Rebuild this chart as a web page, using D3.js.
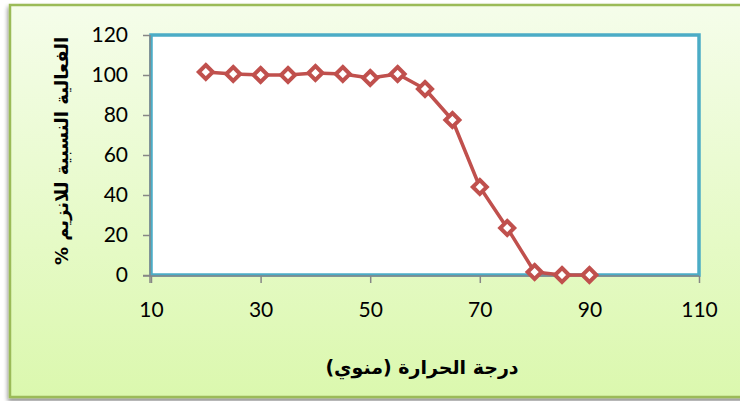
<!DOCTYPE html>
<html>
<head>
<meta charset="utf-8">
<script src="https://cdn.jsdelivr.net/npm/d3@7"></script>
<style>
  html, body { margin: 0; padding: 0; background: #ffffff; }
  svg { display: block; }
</style>
</head>
<body>
<svg id="chart" width="740" height="401"></svg>
<script>
// Relative enzyme activity (%) versus temperature (°C)
const temperatures = [20, 25, 30, 35, 40, 45, 50, 55, 60, 65, 70, 75, 80, 85, 90];
const activity = [101.5, 100.5, 100, 100, 101, 100.5, 98.5, 100.5, 93, 77.5, 44, 23.5, 1.5, 0, 0];
const xTicks = [10, 30, 50, 70, 90, 110];
const yTicks = [0, 20, 40, 60, 80, 100, 120];
const xTitle = "درجة الحرارة (منوي)";
const yTitle = "الفعالية النسبية للانزيم %";

const svg = d3.select("#chart");
const plot = { left: 151, right: 699, top: 35, bottom: 275 };

const defs = svg.append("defs");
const bg = defs.append("linearGradient").attr("id", "bgGrad")
  .attr("x1", 0).attr("y1", 0).attr("x2", 0).attr("y2", 1);
bg.append("stop").attr("offset", "0%").attr("stop-color", "#f5fdea");
bg.append("stop").attr("offset", "100%").attr("stop-color", "#dbf8ae");

const shadow = defs.append("filter").attr("id", "shadow")
  .attr("x", "-5%").attr("y", "-5%").attr("width", "110%").attr("height", "115%");
shadow.append("feGaussianBlur").attr("in", "SourceAlpha").attr("stdDeviation", 2);
shadow.append("feOffset").attr("dx", -1).attr("dy", 3).attr("result", "off");
shadow.append("feComponentTransfer").append("feFuncA").attr("type", "linear").attr("slope", 0.45);
const merge = shadow.append("feMerge");
merge.append("feMergeNode");
merge.append("feMergeNode").attr("in", "SourceGraphic");

// Chart area frame
svg.append("rect")
  .attr("x", 10).attr("y", 5).attr("width", 740).attr("height", 392)
  .attr("fill", "url(#bgGrad)")
  .attr("stroke", "#9bbb59").attr("stroke-width", 2.5)
  .attr("filter", "url(#shadow)");

const x = d3.scaleLinear().domain([10, 110]).range([plot.left, plot.right]);
const y = d3.scaleLinear().domain([0, 120]).range([plot.bottom, plot.top]);

// Plot area
svg.append("rect")
  .attr("x", plot.left).attr("y", plot.top)
  .attr("width", plot.right - plot.left).attr("height", plot.bottom - plot.top)
  .attr("fill", "#ffffff")
  .attr("stroke", "#4bacc6").attr("stroke-width", 3.5);

const tickFont = "Lato, 'Open Sans', sans-serif";

// Y axis
const yAxis = svg.append("g")
  .attr("transform", `translate(${plot.left - 1},0)`)
  .call(d3.axisLeft(y).tickValues(yTicks).tickSize(7).tickPadding(15).tickFormat(d3.format("d")));
yAxis.select(".domain").attr("stroke", "#868686").attr("stroke-width", 1.5)
  .attr("d", `M0,${plot.top}V${plot.bottom + 8}`);
yAxis.selectAll(".tick line").attr("stroke", "#868686").attr("stroke-width", 1.5);
yAxis.selectAll(".tick text").attr("font-family", tickFont).attr("font-size", 21).attr("fill", "#000");

// X axis
const xAxis = svg.append("g")
  .attr("transform", `translate(0,${plot.bottom + 1})`)
  .call(d3.axisBottom(x).tickValues(xTicks).tickSize(7).tickPadding(19).tickFormat(d3.format("d")));
xAxis.select(".domain").attr("stroke", "#868686").attr("stroke-width", 1.5)
  .attr("d", `M${plot.left - 8},0H${plot.right}`);
xAxis.selectAll(".tick line").attr("stroke", "#868686").attr("stroke-width", 1.5);
xAxis.selectAll(".tick text").attr("font-family", tickFont).attr("font-size", 21).attr("fill", "#000");

// Series
const pts = temperatures.map((t, i) => [t, activity[i]]);
svg.append("path")
  .datum(pts)
  .attr("fill", "none")
  .attr("stroke", "#c0504d").attr("stroke-width", 3.5)
  .attr("stroke-linejoin", "round")
  .attr("d", d3.line().x(d => x(d[0])).y(d => y(d[1])));

const diamond = d3.symbol().type(d3.symbolDiamond2).size(125);
svg.append("g").selectAll("path")
  .data(pts)
  .join("path")
  .attr("transform", d => `translate(${x(d[0])},${y(d[1])})`)
  .attr("d", diamond)
  .attr("fill", "#ffffff")
  .attr("stroke", "#c0504d").attr("stroke-width", 4);

// Axis titles
svg.append("text")
  .attr("x", 422).attr("y", 374)
  .attr("text-anchor", "middle")
  .attr("direction", "rtl")
  .attr("font-family", "'DejaVu Sans', sans-serif")
  .attr("font-weight", "bold").attr("font-size", 19)
  .attr("fill", "#000")
  .text(xTitle);

svg.append("text")
  .attr("transform", "translate(68,151) rotate(-90)")
  .attr("text-anchor", "middle")
  .attr("direction", "rtl")
  .attr("font-family", "'DejaVu Sans', sans-serif")
  .attr("font-weight", "bold").attr("font-size", 18)
  .attr("fill", "#000")
  .text(yTitle);
</script>
</body>
</html>
